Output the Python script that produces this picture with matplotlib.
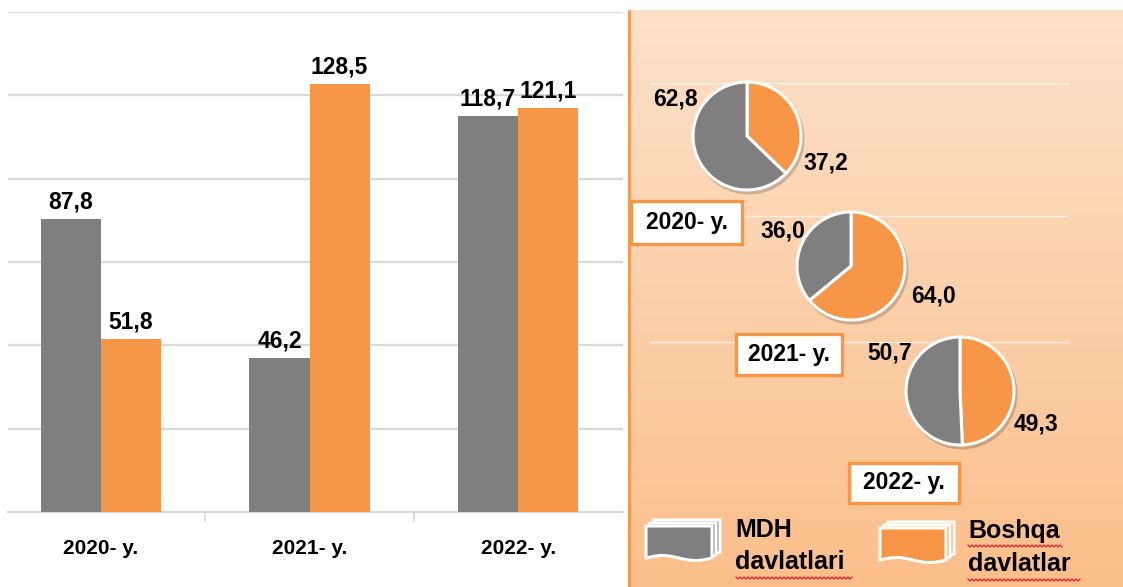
import numpy as np
import matplotlib
matplotlib.use("Agg")
import matplotlib.pyplot as plt
from matplotlib.patches import Rectangle, Polygon, Circle
from matplotlib import font_manager

# ---- data ----
years = ["2020- y.", "2021- y.", "2022- y."]
mdh_values = [87.8, 46.2, 118.7]        # MDH davlatlari
other_values = [51.8, 128.5, 121.1]     # Boshqa davlatlar
mdh_share = [62.8, 36.0, 50.7]          # % share, MDH davlatlari
other_share = [37.2, 64.0, 49.3]        # % share, Boshqa davlatlar
legend_labels = ["MDH\ndavlatlari", "Boshqa\ndavlatlar"]

GRAY = "#7f7f7f"
ORANGE = "#f79646"
GRID = "#d9d9d9"

installed = {f.name for f in font_manager.fontManager.ttflist}
FAMILY = [f for f in ["Liberation Sans", "DejaVu Sans"] if f in installed]
plt.rcParams["font.family"] = FAMILY

W, H = 1123, 587
fig = plt.figure(figsize=(W / 100, H / 100), dpi=100)


def rect(x0, y0, x1, y1):
    """Figure-fraction rectangle from top-left pixel coordinates."""
    return [x0 / W, 1 - y1 / H, (x1 - x0) / W, (y1 - y0) / H]


def fmt(v):
    return f"{v:.1f}".replace(".", ",")


# ---- overlay (panel background, pies, boxes, legend) ----
ov = fig.add_axes([0, 0, 1, 1], zorder=0)
ov.set_xlim(0, W)
ov.set_ylim(0, H)
ov.axis("off")


def Y(y):
    return H - y


# gradient panel
top_c = np.array(matplotlib.colors.to_rgb("#fde1c9"))
bot_c = np.array(matplotlib.colors.to_rgb("#fbbf8b"))
t = np.linspace(0, 1, 256)[:, None]
grad = top_c[None, :] * (1 - t) + bot_c[None, :] * t
grad = np.repeat(grad[:, None, :], 2, axis=1)
ov.imshow(grad, extent=[628, W, Y(H), Y(10)], aspect="auto", zorder=0,
          interpolation="bilinear")
ov.plot([629, 629], [Y(10), Y(H)], color=ORANGE, lw=2.0, zorder=1,
        solid_capstyle="butt")
ov.set_xlim(0, W)
ov.set_ylim(0, H)

# faint guide lines in panel
for gy in [83, 216, 342]:
    ov.plot([650, 1068], [Y(gy), Y(gy)], color="white", lw=1.0, alpha=0.7,
            zorder=1)

# pies
pie_centers = [(747, 136), (851, 266), (960, 391)]
R = 54
label_pos_mdh = [(675, 99), (783, 231), (890, 353)]
label_pos_oth = [(826, 163), (933, 296), (1036, 424)]
for i, (cx, cy) in enumerate(pie_centers):
    ov.add_patch(Circle((cx + 2, Y(cy) - 3), R + 1.5, color="black",
                        alpha=0.18, lw=0, zorder=2))
    wedges, _ = ov.pie([other_share[i], mdh_share[i]],
                       colors=[ORANGE, GRAY], startangle=90,
                       counterclock=False, center=(cx, Y(cy)), radius=R,
                       wedgeprops=dict(edgecolor="white", linewidth=2.2),
                       frame=True)
    for w in wedges:
        w.set_zorder(3)
    ov.text(label_pos_mdh[i][0], Y(label_pos_mdh[i][1]),
            fmt(mdh_share[i]), ha="center", va="center", fontsize=16.5,
            fontweight="bold", zorder=5)
    ov.text(label_pos_oth[i][0], Y(label_pos_oth[i][1]),
            fmt(other_share[i]), ha="center", va="center", fontsize=16.5,
            fontweight="bold", zorder=5)

ov.set_xlim(0, W)
ov.set_ylim(0, H)
ov.set_aspect("auto")
ov.axis("off")

# year boxes
boxes = [(631, 201, 742, 244), (736, 334, 842, 375), (849, 463, 959, 503)]
for (x0, y0, x1, y1), lab in zip(boxes, years):
    ov.add_patch(Rectangle((x0, Y(y1)), x1 - x0, y1 - y0, facecolor="white",
                           edgecolor=ORANGE, lw=2.4, zorder=6))
    ov.text((x0 + x1) / 2, Y((y0 + y1) / 2), lab, ha="center", va="center",
            fontsize=16.5, fontweight="bold", zorder=7)


# legend icons: stacked sheets with a wavy lower edge
def sheet(x0, y0, w, h):
    xs = np.linspace(x0, x0 + w, 30)
    wave = 2.5 * np.sin((xs - x0) / w * 2 * np.pi)
    bottom = list(zip(xs[::-1], (Y(y0 + h) + wave[::-1])))
    return [(x0, Y(y0)), (x0 + w, Y(y0))] + bottom


def icon(x0, y0, color):
    for k, off in enumerate([(8, -6), (4, -3), (0, 0)]):
        pts = sheet(x0 + off[0], y0 + off[1] + 6, 66, 32)
        ov.add_patch(Polygon(pts, closed=True, facecolor=color,
                             edgecolor="white", lw=2.2, zorder=6 + k * 0.1))


def squiggle(x0, x1, y):
    xs = np.arange(x0, x1 + 0.1, 2.0)
    ys = np.where(np.arange(len(xs)) % 2 == 0, Y(y), Y(y) - 2)
    ov.plot(xs, ys, color="#e8202a", lw=0.9, zorder=8)


icon(646, 520, GRAY)
icon(880, 522, ORANGE)
l1a, l1b = legend_labels[0].split("\n")
l2a, l2b = legend_labels[1].split("\n")
ov.text(735, Y(537), l1a, ha="left", va="baseline", fontsize=18,
        fontweight="bold", zorder=8)
ov.text(735, Y(569), l1b, ha="left", va="baseline", fontsize=18,
        fontweight="bold", zorder=8)
ov.text(968, Y(538), l2a, ha="left", va="baseline", fontsize=18,
        fontweight="bold", zorder=8)
ov.text(968, Y(571), l2b, ha="left", va="baseline", fontsize=18,
        fontweight="bold", zorder=8)
squiggle(736, 852, 577)
squiggle(968, 1063, 545)
squiggle(968, 1081, 579)

# ---- bar chart ----
ax = fig.add_axes(rect(8, 12, 623, 512), zorder=2)
ax.patch.set_alpha(0)
x = np.arange(len(years))
bw = 0.288
ax.bar(x - bw / 2, mdh_values, bw, color=GRAY, zorder=3)
ax.bar(x + bw / 2, other_values, bw, color=ORANGE, zorder=3)
ax.set_xlim(-0.446, 2.503)
ax.set_ylim(0, 150)
ax.set_yticks(np.arange(25, 151, 25))
ax.yaxis.grid(True, color=GRID, lw=1.6, zorder=0)
ax.tick_params(axis="y", length=0, labelleft=False)
for s in ["top", "right", "left"]:
    ax.spines[s].set_visible(False)
ax.spines["bottom"].set_color(GRID)
ax.spines["bottom"].set_linewidth(1.6)
ax.set_xticks([0.5, 1.5])
ax.set_xticklabels([])
ax.tick_params(axis="x", length=7, color=GRID, width=1.2, direction="out")

for i in range(len(years)):
    ax.annotate(fmt(mdh_values[i]), (x[i] - bw / 2, mdh_values[i]),
                xytext=(0, 4), textcoords="offset points", ha="center",
                va="bottom", fontsize=16.5, fontweight="bold")
    ax.annotate(fmt(other_values[i]), (x[i] + bw / 2, other_values[i]),
                xytext=(0, 4), textcoords="offset points", ha="center",
                va="bottom", fontsize=16.5, fontweight="bold")
    ax.text(x[i], -0.072, years[i], transform=ax.get_xaxis_transform(),
            ha="center", va="center", fontsize=15, fontweight="bold")

fig.savefig("out.png", dpi=100)
